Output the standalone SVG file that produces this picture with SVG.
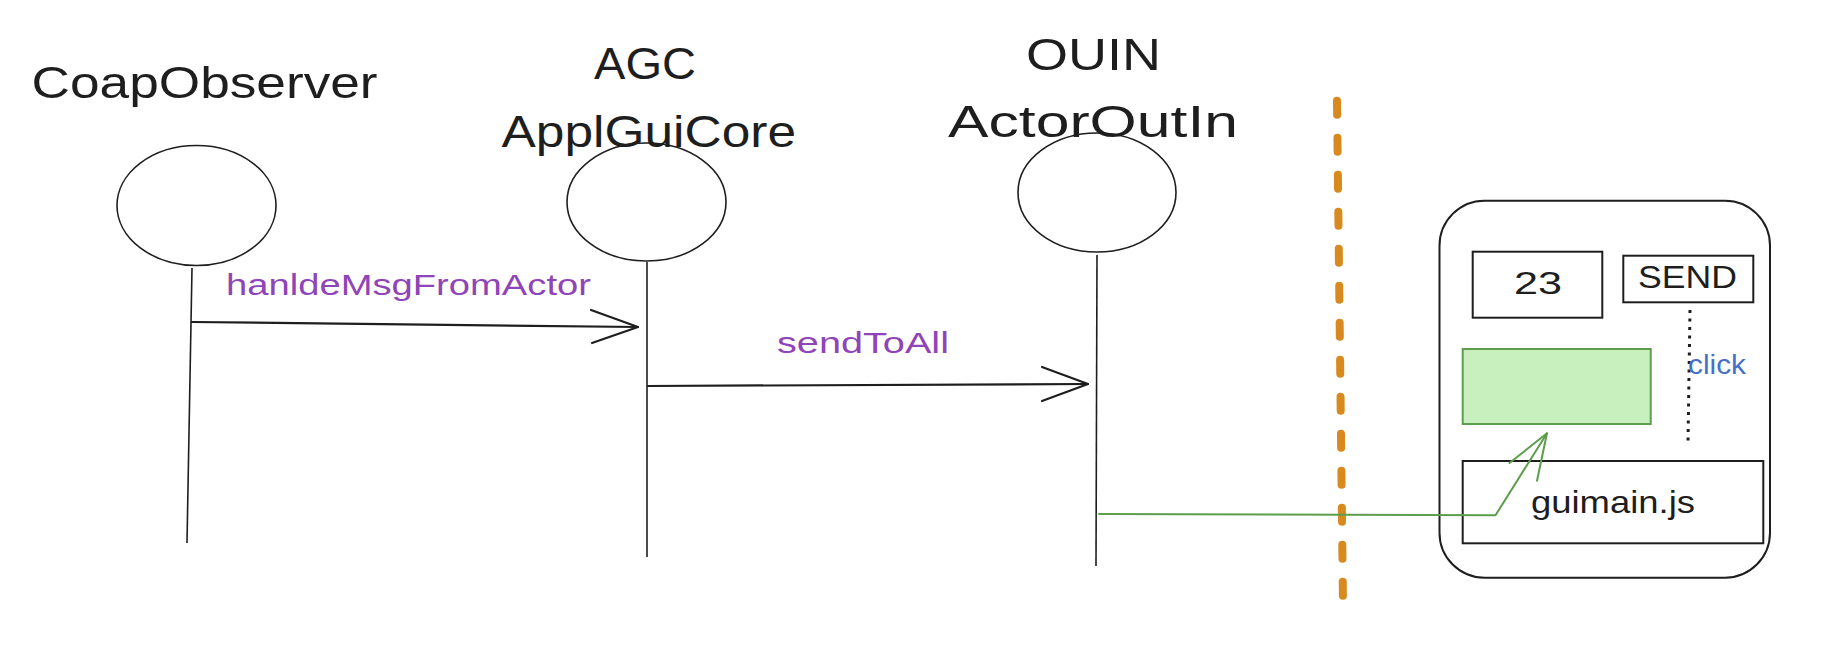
<svg xmlns="http://www.w3.org/2000/svg" width="1821" height="646" viewBox="0 0 1821 646">
<style>
.title{font-family:"Liberation Sans","DejaVu Sans",sans-serif;font-size:44px;fill:#1e1e1e}
.lbl{font-family:"Liberation Sans","DejaVu Sans",sans-serif;font-size:29px;fill:#8f44b8}
.box{font-family:"Liberation Sans","DejaVu Sans",sans-serif;font-size:32px;fill:#1e1e1e}
.actor{fill:#ffffff;stroke:#1e1e1e;stroke-width:1.6}
.life{stroke:#1e1e1e;stroke-width:1.6;fill:none}
.msg{stroke:#1e1e1e;stroke-width:2.2;fill:none;stroke-linecap:round;stroke-linejoin:round}
.rect{fill:none;stroke:#1e1e1e;stroke-width:2}
.green{stroke:#5c9e4b;stroke-width:2;fill:none;stroke-linecap:round;stroke-linejoin:round}
</style>
<rect width="1821" height="646" fill="#ffffff"/>

<g id="coapobserver">
<text class="title" x="31.6" y="98" textLength="346" lengthAdjust="spacingAndGlyphs">CoapObserver</text>
<ellipse class="actor" cx="196.5" cy="205.5" rx="79.5" ry="60"/>
<path class="life" d="M192 268 L187 543"/>
</g>

<g id="agc">
<text class="title" x="594" y="79" textLength="102" lengthAdjust="spacingAndGlyphs">AGC</text>
<text class="title" x="501.5" y="147" textLength="294.5" lengthAdjust="spacingAndGlyphs">ApplGuiCore</text>
<ellipse class="actor" cx="646.5" cy="202" rx="79.5" ry="59" fill-opacity="0"/>
<path class="life" d="M647 262 L647 557"/>
</g>

<g id="ouin">
<text class="title" x="1026" y="70" textLength="135" lengthAdjust="spacingAndGlyphs">OUIN</text>
<text class="title" x="948" y="137" textLength="290" lengthAdjust="spacingAndGlyphs">ActorOutIn</text>
<ellipse class="actor" cx="1097" cy="192.5" rx="79" ry="59.5" fill-opacity="0"/>
<path class="life" d="M1097 255 L1096 566"/>
</g>

<g id="separator">
<path d="M1337 100.7 L1343 603" stroke="#d98a1f" stroke-width="8" stroke-linecap="round" stroke-dasharray="14 23" fill="none"/>
</g>

<g id="gui">
<rect class="rect" x="1439.5" y="200.7" width="330.5" height="377" rx="45"/>
<g id="input23">
<rect class="rect" x="1472.7" y="251.7" width="129.6" height="66"/>
<text class="box" x="1538" y="294.3" text-anchor="middle" textLength="48" lengthAdjust="spacingAndGlyphs">23</text>
</g>
<g id="send">
<rect class="rect" x="1623.3" y="255.7" width="130" height="46.6"/>
<text class="box" x="1638" y="288.3" textLength="99" lengthAdjust="spacingAndGlyphs">SEND</text>
</g>
<g id="output">
<rect x="1462.7" y="349" width="188" height="75" fill="#c8efbe" stroke="#5c9e4b" stroke-width="2"/>
</g>
<g id="guimain">
<rect class="rect" x="1462.7" y="461" width="300.6" height="82.3"/>
<text class="box" x="1531" y="513" textLength="164" lengthAdjust="spacingAndGlyphs">guimain.js</text>
</g>
</g>

<g id="connectors">
<path class="msg" d="M192 322 L638 327"/>
<path class="msg" d="M591 310 L638 327 L592 343"/>
<text class="lbl" x="226" y="295" textLength="365" lengthAdjust="spacingAndGlyphs">hanldeMsgFromActor</text>
<path class="msg" d="M648 386 L1088 384"/>
<path class="msg" d="M1042 367 L1088 384 L1042 401"/>
<text class="lbl" x="777" y="353" textLength="172" lengthAdjust="spacingAndGlyphs">sendToAll</text>
<path class="green" d="M1099 514 L1495.5 515.3 L1547 433.3"/>
<path class="green" d="M1509.5 463 L1547 433.3 L1537 480.7"/>
<path d="M1690 310 L1688 442" stroke="#1e1e1e" stroke-width="3" stroke-dasharray="3 5.5" fill="none"/>
<text x="1688" y="374" font-family="Liberation Sans, DejaVu Sans, sans-serif" font-size="28" fill="#4670c8" textLength="58" lengthAdjust="spacingAndGlyphs">click</text>
</g>
</svg>
